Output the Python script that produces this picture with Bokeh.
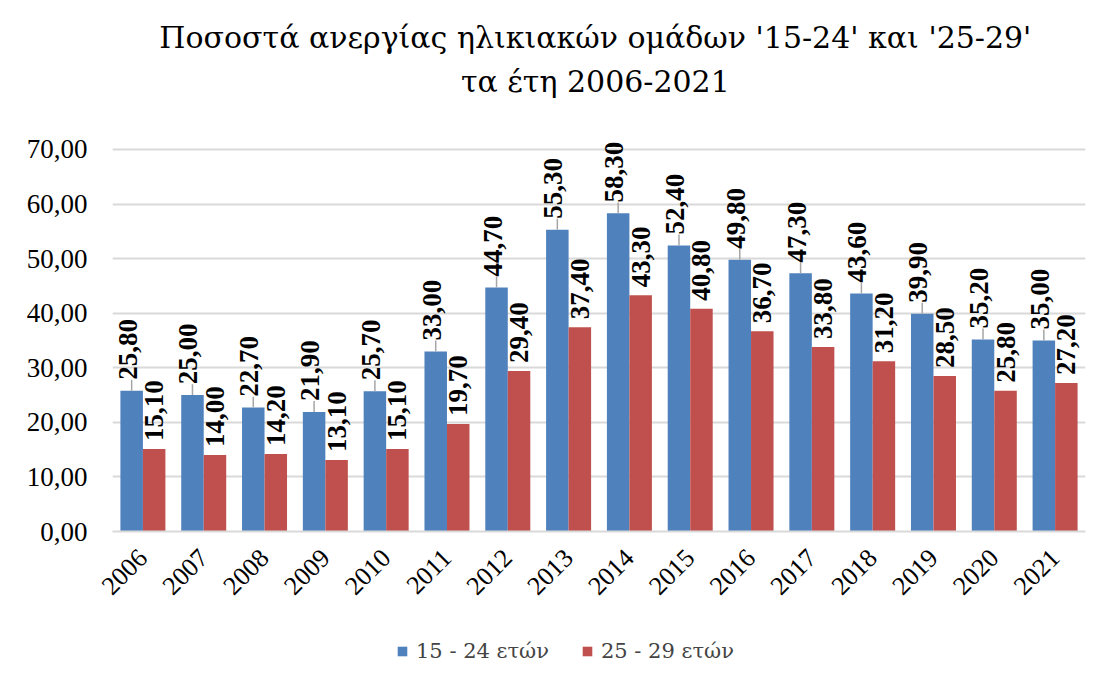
import math
from bokeh.plotting import figure
from bokeh.layouts import column
from bokeh.models import (ColumnDataSource, FactorRange, Range1d, Label, Legend, LegendItem,
                          CustomJSTickFormatter, FixedTicker)
from bokeh.transform import dodge
from bokeh.core.properties import value
from bokeh.embed import file_html
from bokeh.resources import INLINE

years = ["2006", "2007", "2008", "2009", "2010", "2011", "2012", "2013",
         "2014", "2015", "2016", "2017", "2018", "2019", "2020", "2021"]
age_15_24 = [25.8, 25.0, 22.7, 21.9, 25.7, 33.0, 44.7, 55.3, 58.3, 52.4, 49.8, 47.3, 43.6, 39.9, 35.2, 35.0]
age_25_29 = [15.1, 14.0, 14.2, 13.1, 15.1, 19.7, 29.4, 37.4, 43.3, 40.8, 36.7, 33.8, 31.2, 28.5, 25.8, 27.2]
y_ticks = [0, 10, 20, 30, 40, 50, 60, 70]
series_names = ["15 - 24 ετών", "25 - 29 ετών"]
title_line1 = "Ποσοστά ανεργίας ηλικιακών ομάδων '15-24' και '25-29'"
title_line2 = "τα έτη 2006-2021"

BLUE = "#4F81BD"
RED = "#C0504D"
FONT = "Liberation Serif"
GREEK_FONT = "DejaVu Serif"

def fmt(v):
    return f"{v:.2f}".replace(".", ",")

src = ColumnDataSource(dict(
    year=years,
    a=age_15_24,
    b=age_25_29,
    a_top=[v + 2.0 for v in age_15_24],
    a_lab=[fmt(v) for v in age_15_24],
    b_lab=[fmt(v) for v in age_25_29],
))

# frame reaches the top of the canvas so the two title lines can sit inside it
p = figure(width=1102, height=620, x_range=FactorRange(*years, range_padding=0),
           y_range=Range1d(0, 97.29), output_backend="svg", toolbar_location=None,
           min_border_left=112, min_border_right=17, min_border_top=0,
           min_border_bottom=89, outline_line_color=None,
           background_fill_color="white", border_fill_color="white")

W = 0.37
xa = dodge("year", -0.185, range=p.x_range)
xb = dodge("year", 0.185, range=p.x_range)

ra = p.vbar(x=xa, top="a", width=W, source=src, fill_color=BLUE, line_color=None)
rb = p.vbar(x=xb, top="b", width=W, source=src, fill_color=RED, line_color=None)

# leader lines for blue labels
p.segment(x0=xa, y0="a", x1=xa, y1="a_top", source=src, line_color="#a6a6a6", line_width=1.5)

p.text(x=xa, y="a_top", text="a_lab", source=src, angle=math.pi / 2,
       text_align="left", text_baseline="middle", text_font=value(FONT),
       text_font_style="bold", text_font_size="27px", text_color="black", x_offset=-4)
p.text(x=xb, y="b", text="b_lab", source=src, angle=math.pi / 2,
       text_align="left", text_baseline="middle", text_font=value(FONT),
       text_font_style="bold", text_font_size="27px", text_color="black", y_offset=-8)

# axes
p.yaxis.ticker = FixedTicker(ticks=y_ticks)
p.yaxis.formatter = CustomJSTickFormatter(code="return tick.toFixed(2).replace('.', ',');")
p.yaxis.axis_line_color = None
p.yaxis.major_tick_line_color = None
p.yaxis.minor_tick_line_color = None
p.yaxis.major_label_text_font = FONT
p.yaxis.major_label_text_font_size = "27px"
p.yaxis.major_label_text_color = "black"
p.yaxis.major_label_standoff = 19

p.xaxis.axis_line_color = "#d9d9d9"
p.xaxis.axis_line_width = 2
p.xaxis.major_tick_line_color = None
p.xaxis.minor_tick_line_color = None
p.xaxis.major_label_orientation = math.pi / 4
p.xaxis.major_label_text_font = FONT
p.xaxis.major_label_text_font_size = "26px"
p.xaxis.major_label_text_color = "black"
p.xaxis.major_label_standoff = 16

p.xgrid.grid_line_color = None
p.ygrid.grid_line_color = "#d9d9d9"
p.ygrid.grid_line_width = 2

for txt, yy in ((title_line1, 90.5), (title_line2, 82.5)):
    p.add_layout(Label(x=7.94, y=yy, text=txt, text_align="center", text_baseline="middle",
                       text_font=GREEK_FONT, text_font_size="30px", text_color="black"))

# legend strip below the chart (its bars lie far outside its visible range)
leg = figure(width=1102, height=61, x_range=FactorRange(*years), y_range=Range1d(1000, 1001),
             output_backend="svg", toolbar_location=None,
             x_axis_location=None, y_axis_location=None, min_border=0,
             outline_line_color=None, background_fill_color="white", border_fill_color="white")
leg.xgrid.grid_line_color = None
leg.ygrid.grid_line_color = None
la = leg.vbar(x=dodge("year", -0.185, range=leg.x_range), top="a", width=W, source=src,
              fill_color=BLUE, line_color=None)
lb = leg.vbar(x=dodge("year", 0.185, range=leg.x_range), top="b", width=W, source=src,
              fill_color=RED, line_color=None)
legend = Legend(items=[LegendItem(label=series_names[0], renderers=[la]),
                       LegendItem(label=series_names[1], renderers=[lb])],
                orientation="horizontal", location=(284, 18),
                label_text_font=GREEK_FONT, label_text_font_size="21px",
                glyph_width=12, glyph_height=12, spacing=32, label_standoff=8,
                border_line_color=None, background_fill_alpha=0, margin=0, padding=4)
leg.add_layout(legend, "center")

layout = column(p, leg, spacing=0)
open("out.html", "w").write(file_html(layout, INLINE))
